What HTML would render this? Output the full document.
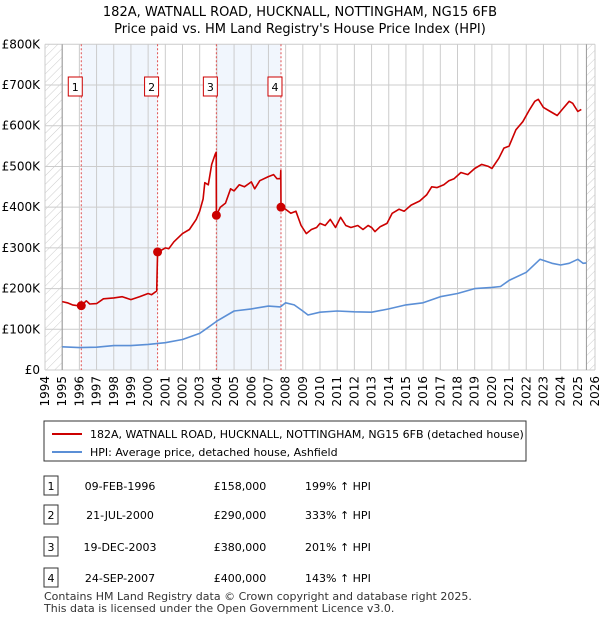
<!DOCTYPE html>
<html><head><meta charset="utf-8"><style>
body{margin:0;background:#fff;font-family:"Liberation Sans","DejaVu Sans",sans-serif;}
svg text{font-family:"DejaVu Sans","Liberation Sans",sans-serif;}
</style></head><body>
<svg id="c" width="600" height="620" xmlns="http://www.w3.org/2000/svg">
<defs><pattern id="h" width="6" height="6" patternUnits="userSpaceOnUse" patternTransform="rotate(45)"><line x1="0" y1="0" x2="0" y2="6" stroke="#ccc" stroke-width="1"/></pattern></defs>
<text x="300" y="16" font-size="13" text-anchor="middle">182A, WATNALL ROAD, HUCKNALL, NOTTINGHAM, NG15 6FB</text>
<text x="300" y="33" font-size="13" text-anchor="middle">Price paid vs. HM Land Registry's House Price Index (HPI)</text>
<g id="plot"></g>
<rect x="44" y="421" width="482" height="40" fill="#fff" stroke="#333"/>
<line x1="52" y1="434" x2="82" y2="434" stroke="#cc0000" stroke-width="2"/>
<text x="90" y="438" font-size="11">182A, WATNALL ROAD, HUCKNALL, NOTTINGHAM, NG15 6FB (detached house)</text>
<line x1="52" y1="452" x2="82" y2="452" stroke="#5b8fd6" stroke-width="2"/>
<text x="90" y="456" font-size="11">HPI: Average price, detached house, Ashfield</text>
<g id="tbl" font-size="11"></g>
<text x="44" y="600" font-size="11" fill="#333">Contains HM Land Registry data © Crown copyright and database right 2025.</text>
<text x="44" y="612" font-size="11" fill="#333">This data is licensed under the Open Government Licence v3.0.</text>
</svg>
<script>
const saleYears=[1996.11,2000.55,2003.97,2007.73];
const saleDates=["09-FEB-1996","21-JUL-2000","19-DEC-2003","24-SEP-2007"];
const salePrices=[158000,290000,380000,400000];
const salePct=["199% ↑ HPI","333% ↑ HPI","201% ↑ HPI","143% ↑ HPI"];
const yTicks=[0,100000,200000,300000,400000,500000,600000,700000,800000];
const yTickLabels=["£0","£100K","£200K","£300K","£400K","£500K","£600K","£700K","£800K"];
const redYears=[1995.0,1995.3,1995.6,1995.9,1996.11,1996.4,1996.6,1997.0,1997.4,1998,1998.5,1999,1999.5,2000,2000.2,2000.5,2000.55,2000.8,2001,2001.2,2001.5,2002,2002.4,2002.8,2003,2003.2,2003.3,2003.5,2003.7,2003.9,2003.96,2003.97,2004.2,2004.5,2004.8,2005,2005.3,2005.6,2006,2006.2,2006.5,2007,2007.3,2007.5,2007.7,2007.72,2007.73,2008,2008.3,2008.6,2008.9,2009.2,2009.5,2009.8,2010,2010.3,2010.6,2010.9,2011.2,2011.5,2011.8,2012.2,2012.5,2012.8,2013,2013.2,2013.5,2013.9,2014.2,2014.6,2014.9,2015.3,2015.8,2016.2,2016.5,2016.8,2017.2,2017.5,2017.8,2018.2,2018.6,2019,2019.4,2019.8,2020,2020.4,2020.7,2021,2021.4,2021.8,2022.2,2022.5,2022.7,2023,2023.4,2023.8,2024.1,2024.5,2024.7,2025,2025.2];
const redValues=[168,165,160,158,158,170,162,163,175,177,180,173,180,188,185,194,290,295,300,298,315,335,345,370,390,420,460,455,505,530,535,380,400,410,445,440,455,450,462,445,465,475,480,470,470,490,400,395,385,390,355,335,345,350,360,355,370,350,375,355,350,355,345,355,350,340,352,360,385,395,390,405,415,430,450,448,455,465,470,485,480,495,505,500,495,520,545,550,590,610,640,660,665,645,635,625,640,660,655,635,640];
const blueYears=[1995,1996,1997,1998,1999,2000,2001,2002,2003,2003.5,2004,2005,2006,2007,2007.7,2008,2008.5,2009,2009.3,2010,2011,2012,2013,2014,2015,2016,2017,2018,2019,2020,2020.5,2021,2022,2022.8,2023.5,2024,2024.5,2025,2025.3,2025.5];
const blueValues=[57,55,56,60,60,63,67,75,90,105,120,145,150,157,155,165,160,145,135,142,145,143,142,150,160,165,180,188,200,203,205,220,240,272,262,258,262,272,262,263];
const NS="http://www.w3.org/2000/svg";
const X0=45,X1=595,Y0=370,Y1=44.3;
const xs=y=>X0+(y-1994)/32*(X1-X0);
const ys=v=>Y0-v/800000*(Y0-Y1);
const plot=document.getElementById('plot');
function mk(tag,at,parent){const e=document.createElementNS(NS,tag);for(const k in at)e.setAttribute(k,at[k]);(parent||plot).appendChild(e);return e;}
// shading
for(let i=0;i<4;i+=2){const r=mk('rect',{x:xs(saleYears[i]),y:Y1,width:xs(saleYears[i+1])-xs(saleYears[i]),height:Y0-Y1,fill:'#eef4fd',opacity:0.8});

}
// hatch
let hl=mk('rect',{x:X0,y:Y1,width:xs(1995)-X0,height:Y0-Y1,fill:'url(#h)'});


let hr=mk('rect',{x:xs(2025.5),y:Y1,width:X1-xs(2025.5),height:Y0-Y1,fill:'url(#h)'});


// grid
for(let y=1994;y<=2026;y++){const l=mk('line',{x1:xs(y),x2:xs(y),y1:Y1,y2:Y0,stroke:'#ccc','stroke-width':1});


const t=mk('text',{x:0,y:0,'font-size':12,'text-anchor':'end',transform:`translate(${xs(y)+4},376) rotate(-90)`});t.textContent=y;

}
yTicks.forEach((v,i)=>{const l=mk('line',{x1:X0,x2:X1,y1:ys(v),y2:ys(v),stroke:'#ccc','stroke-width':1});


const t=mk('text',{x:40,y:ys(v)+4,'font-size':12,'text-anchor':'end'});t.textContent=yTickLabels[i];

});
[1995,2025.5].forEach(y=>{const l=mk('line',{x1:xs(y),x2:xs(y),y1:Y1,y2:Y0,stroke:'#999','stroke-width':1});

});
// sale lines
saleYears.forEach((y,i)=>{const l=mk('line',{x1:xs(y),x2:xs(y),y1:Y1,y2:Y0,stroke:'#e05050','stroke-width':1,'stroke-dasharray':'2,2'});


const r=mk('rect',{x:xs(y)-13,y:77,width:14,height:19,fill:'#fff',stroke:'#cc0000'});


const t=mk('text',{x:xs(y)-6,y:91,'font-size':11,'text-anchor':'middle'});t.textContent=i+1;

});
function line(xa,va,c,name){const d=xa.map((x,i)=>(i?'L':'M')+xs(x).toFixed(1)+','+ys(va[i]*1000).toFixed(1)).join('');const p=mk('path',{d,fill:'none',stroke:c,'stroke-width':1.6,'stroke-linejoin':'round'});

}
line(blueYears,blueValues,'#5b8fd6','hpi-line');
line(redYears,redValues,'#cc0000','price-line');
saleYears.forEach((y,i)=>{const c=mk('circle',{cx:xs(y),cy:ys(salePrices[i]),r:4.5,fill:'#cc0000'});

});
// table
const tbl=document.getElementById('tbl');const rowsY=[486,515,547,578];
saleDates.forEach((d,i)=>{const y=rowsY[i];
const r=mk('rect',{x:44,y:y-10,width:14,height:19,fill:'#fff',stroke:'#333'},tbl);


const vals=[[51,String(i+1),'middle'],[120,d,'middle'],[240,'£'+salePrices[i].toLocaleString('en-GB'),'middle'],[305,salePct[i],'start']];
vals.forEach(v=>{const t=mk('text',{x:v[0],y:y+4,'text-anchor':v[2]},tbl);t.textContent=v[1];

});});
</script>
</body></html>
